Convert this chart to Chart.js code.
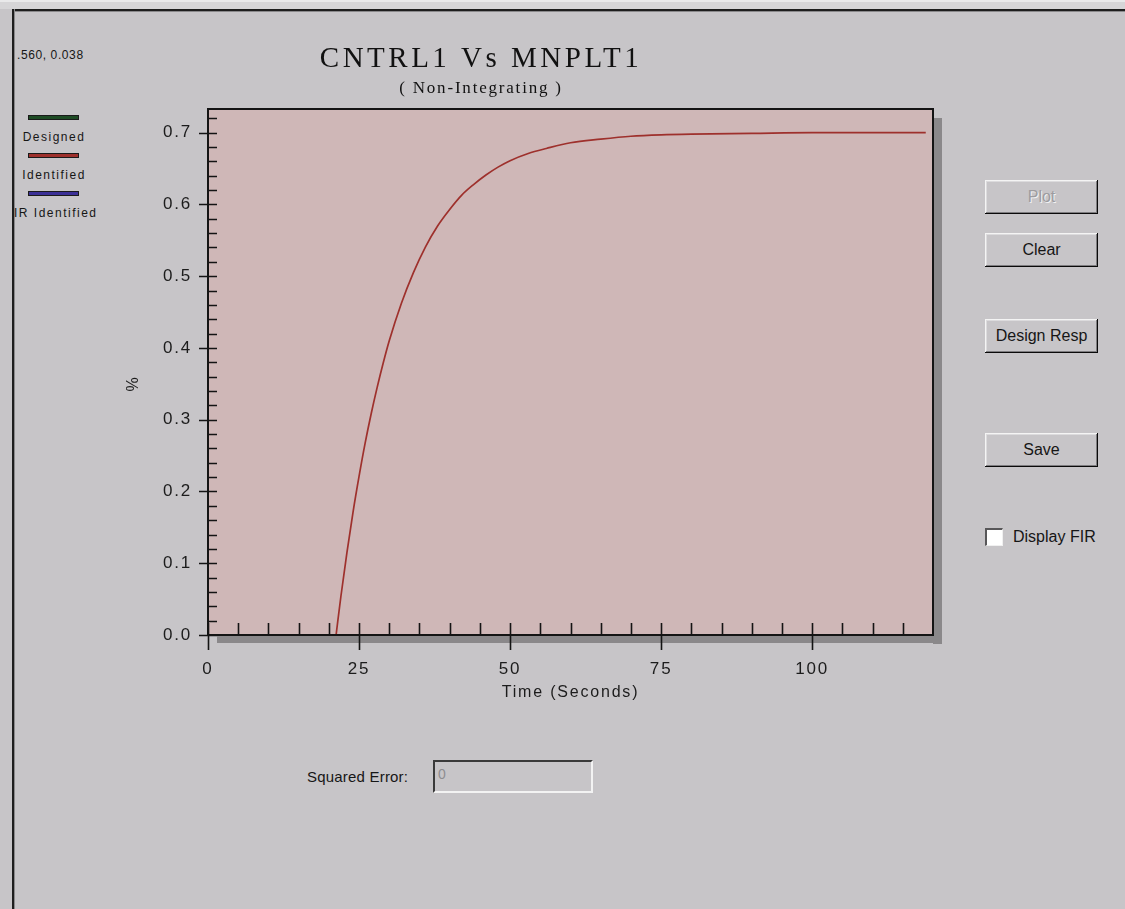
<!DOCTYPE html>
<html>
<head>
<meta charset="utf-8">
<title>CNTRL1 Vs MNPLT1</title>
<script src="https://cdn.jsdelivr.net/npm/chart.js@4.4.1/dist/chart.umd.min.js"></script>
<style>
    html, body {
        margin: 0;
        padding: 0;
    }
    body {
        position: relative;
        width: 1125px;
        height: 909px;
        overflow: hidden;
        background: #c7c5c8;
        font-family: 'Liberation Sans', Arial, sans-serif;
        color: #161616;
    }
    .abs { position: absolute; }

    /* window frame */
    #winTop { left: 0; top: 0; width: 1125px; height: 9px; background: #d6d5d7; border-top: 2px solid #e9e9ea; box-sizing: border-box; }
    #winTopLine { left: 12px; top: 9px; width: 1113px; height: 2px; background: #1e1e1e; border-bottom: 1px solid #8a898b; }
    #winLeftLine { left: 12px; top: 9px; width: 2px; height: 900px; background: #1e1e1e; border-right: 1px solid #8a898b; }

    #readout { left: 17px; top: 48px; font-size: 12px; letter-spacing: 0.6px; line-height: 14px; }

    .swatch { position: absolute; left: 28px; width: 51px; height: 5px; box-sizing: border-box; border: 1px solid #1a1a1a; }
    .swatchLabel { position: absolute; left: 14px; width: 80px; text-align: center; white-space: nowrap; font-size: 12px; line-height: 14px; letter-spacing: 1.5px; }

    #plotWrap { left: 0; top: 20px; width: 962px; height: 686px; }

    .btn {
        position: absolute;
        left: 985px;
        width: 113px;
        height: 34px;
        box-sizing: border-box;
        text-align: center;
        line-height: 33px;
        font-size: 16px;
        background: #c7c5c8;
        box-shadow: inset -1px -1px #0a0a0a, inset 1px 1px #f4f4f4, inset -2px -2px #7e7d80, inset 2px 2px #dcdbdd;
    }
    .btn.disabled { color: #9d9c9f; text-shadow: 1px 1px #f2f2f2; }

    #firBox { left: 985px; top: 528px; width: 18px; height: 18px; box-sizing: border-box; background: #fff; border-top: 2px solid #585759; border-left: 2px solid #585759; border-bottom: 1px solid #f0f0f0; border-right: 1px solid #f0f0f0; }
    #firLabel { left: 1013px; top: 528px; font-size: 16px; line-height: 18px; }

    #errLabel { left: 307px; top: 768px; font-size: 15px; line-height: 18px; letter-spacing: 0.2px; }
    #errBox { left: 433px; top: 760px; width: 160px; height: 33px; box-sizing: border-box; border-top: 2px solid #3a3a3a; border-left: 2px solid #3a3a3a; border-bottom: 2px solid #f3f3f3; border-right: 2px solid #f3f3f3; color: #8e8d90; font-size: 14px; line-height: 24px; padding-left: 3px; }
</style>
</head>
<body>
<div id="winTop" class="abs"></div>
<div id="winTopLine" class="abs"></div>
<div id="winLeftLine" class="abs"></div>

<div id="readout" class="abs">.560, 0.038</div>
<div id="legend"></div>

<div id="plotWrap" class="abs"><canvas id="responseChart" width="962" height="686"></canvas></div>

<div class="btn disabled" style="top:180px">Plot</div>
<div class="btn" style="top:233px">Clear</div>
<div class="btn" style="top:319px">Design Resp</div>
<div class="btn" style="top:433px">Save</div>
<div id="firBox" class="abs"></div>
<div id="firLabel" class="abs">Display FIR</div>

<div id="errLabel" class="abs">Squared Error:</div>
<div id="errBox" class="abs">0</div>

<script>
// Step response, time in seconds
const timeSeconds = [21.2, 22, 23, 24, 25, 26, 27, 28, 29, 30, 32, 34, 36, 38, 40, 42, 44, 46, 48, 50, 53, 56, 60, 65, 70, 75, 80, 90, 100, 110, 118.8];
const identifiedResponse = [0.000, 0.054, 0.115, 0.171, 0.221, 0.267, 0.308, 0.345, 0.379, 0.410, 0.462, 0.505, 0.541, 0.570, 0.593, 0.613, 0.628, 0.641, 0.652, 0.661, 0.671, 0.678, 0.686, 0.691, 0.695, 0.697, 0.698, 0.699, 0.700, 0.700, 0.700];
const designedResponse = [];
const irIdentifiedResponse = [];

const seriesNames = ['Designed', 'Identified', 'IR Identified'];
const seriesColors = ['#1d4b24', '#9e302c', '#3b3096'];

const xTickValues = [0, 25, 50, 75, 100];
const yTickValues = [0.0, 0.1, 0.2, 0.3, 0.4, 0.5, 0.6, 0.7];
const xMinorStep = 5;
const yMinorStep = 0.02;

function toPoints(xs, ys) {
    return ys.map((v, i) => ({ x: xs[i], y: v }));
}

// pink plot box with a drop shadow, tick marks on the inside like the old dialog
const plotBox = {
    id: 'plotBox',
    afterInit(chart) {
        // the big heading is spaced out wider than the rest of the text
        const block = chart.titleBlock;
        if (block) {
            const drawTitle = block.draw.bind(block);
            block.draw = function (area) {
                chart.ctx.letterSpacing = '3.5px';
                drawTitle(area);
                chart.ctx.letterSpacing = '1.8px';
            };
        }
    },
    beforeDraw(chart) {
        const { ctx, chartArea: a } = chart;
        ctx.save();
        ctx.fillStyle = '#8a888a';
        ctx.fillRect(a.right, a.top + 9, 9, a.bottom - a.top);
        ctx.fillRect(a.left + 9, a.bottom, a.right - a.left, 8);
        ctx.fillStyle = '#cfb7b7';
        ctx.fillRect(a.left, a.top, a.right - a.left, a.bottom - a.top);
        ctx.restore();
        // wide bitmap-style spacing for axis text
        ctx.letterSpacing = '1.8px';
    },
    beforeDatasetsDraw(chart) {
        chart.ctx.letterSpacing = '0px';
    },
    afterDatasetsDraw(chart) {
        const { ctx, chartArea: a, scales: { x, y } } = chart;
        ctx.save();
        ctx.strokeStyle = '#141414';
        ctx.lineWidth = 2;
        ctx.strokeRect(a.left, a.top, a.right - a.left, a.bottom - a.top);

        ctx.lineWidth = 1.6;
        ctx.beginPath();
        const nx = Math.floor(x.max / xMinorStep + 1e-6);
        for (let i = 0; i <= nx; i++) {
            const px = Math.round(x.getPixelForValue(i * xMinorStep)) + 0.5;
            if (px >= a.right - 1) continue;
            ctx.moveTo(px, a.bottom - 12);
            ctx.lineTo(px, i % 5 === 0 ? a.bottom + 15 : a.bottom);
        }
        const ny = Math.floor(y.max / yMinorStep + 1e-6);
        for (let i = 0; i <= ny; i++) {
            const py = Math.round(y.getPixelForValue(i * yMinorStep)) + 0.5;
            ctx.moveTo(i % 5 === 0 ? a.left - 9 : a.left, py);
            ctx.lineTo(a.left + 9, py);
        }
        ctx.stroke();
        ctx.restore();
    },
    afterDraw(chart) {
        chart.ctx.letterSpacing = '0px';
    }
};

const tickFont = { family: "'Liberation Sans', Arial, sans-serif", size: 17 };

const responseChart = new Chart(document.getElementById('responseChart'), {
    type: 'line',
    data: {
        datasets: [
            {
                label: seriesNames[0],
                data: toPoints(timeSeconds, designedResponse),
                borderColor: seriesColors[0],
                borderWidth: 1.6,
                pointRadius: 0
            },
            {
                label: seriesNames[1],
                data: toPoints(timeSeconds, identifiedResponse),
                borderColor: seriesColors[1],
                borderWidth: 1.7,
                pointRadius: 0,
                cubicInterpolationMode: 'monotone'
            },
            {
                label: seriesNames[2],
                data: toPoints(timeSeconds, irIdentifiedResponse),
                borderColor: seriesColors[2],
                borderWidth: 1.6,
                pointRadius: 0
            }
        ]
    },
    options: {
        responsive: false,
        animation: false,
        layout: {
            padding: { left: 29, right: 29, top: 0, bottom: 0 }
        },
        plugins: {
            legend: { display: false },
            tooltip: { enabled: false },
            title: {
                display: true,
                text: 'CNTRL1 Vs MNPLT1',
                color: '#111',
                font: { family: "'Liberation Serif', 'Times New Roman', serif", size: 29, weight: 'normal' },
                padding: { top: 22, bottom: 0 }
            },
            subtitle: {
                display: true,
                text: '( Non-Integrating )',
                color: '#111',
                font: { family: "'Liberation Serif', 'Times New Roman', serif", size: 17, weight: 'normal' },
                padding: { top: 2, bottom: 9.8 }
            }
        },
        scales: {
            x: {
                type: 'linear',
                min: 0,
                max: 120,
                grid: { display: false, drawTicks: false },
                border: { display: false },
                afterBuildTicks: (scale) => {
                    scale.ticks = xTickValues.map(v => ({ value: v }));
                },
                afterFit: (scale) => {
                    scale.height = 71;
                },
                ticks: {
                    color: '#1c1c1c',
                    font: tickFont,
                    padding: 24,
                    maxRotation: 0,
                    callback: (v) => String(v)
                },
                title: {
                    display: true,
                    text: 'Time (Seconds)',
                    color: '#1c1c1c',
                    font: { family: "'Liberation Sans', Arial, sans-serif", size: 16 },
                    padding: { top: 3, bottom: 4 }
                }
            },
            y: {
                type: 'linear',
                min: 0,
                max: 0.733,
                grid: { display: false, drawTicks: false },
                border: { display: false },
                afterBuildTicks: (scale) => {
                    scale.ticks = yTickValues.map(v => ({ value: v }));
                },
                afterFit: (scale) => {
                    scale.width = 179;
                },
                ticks: {
                    color: '#1c1c1c',
                    font: tickFont,
                    padding: 16,
                    callback: (v) => Number(v).toFixed(1)
                },
                title: {
                    display: true,
                    text: '%\u2003\u2009',
                    color: '#1c1c1c',
                    font: { family: "'Liberation Sans', Arial, sans-serif", size: 16 },
                    padding: { top: 95, bottom: 4 }
                }
            }
        }
    },
    plugins: [plotBox]
});

// series key on the left edge, built from the chart's datasets
const legendEl = document.getElementById('legend');
responseChart.data.datasets.forEach((ds, i) => {
    const swatch = document.createElement('div');
    swatch.className = 'swatch';
    swatch.style.top = (115 + i * 38) + 'px';
    swatch.style.background = ds.borderColor;
    legendEl.appendChild(swatch);

    const label = document.createElement('div');
    label.className = 'swatchLabel';
    label.style.top = (130 + i * 38) + 'px';
    label.textContent = ds.label;
    legendEl.appendChild(label);
});
</script>
</body>
</html>
